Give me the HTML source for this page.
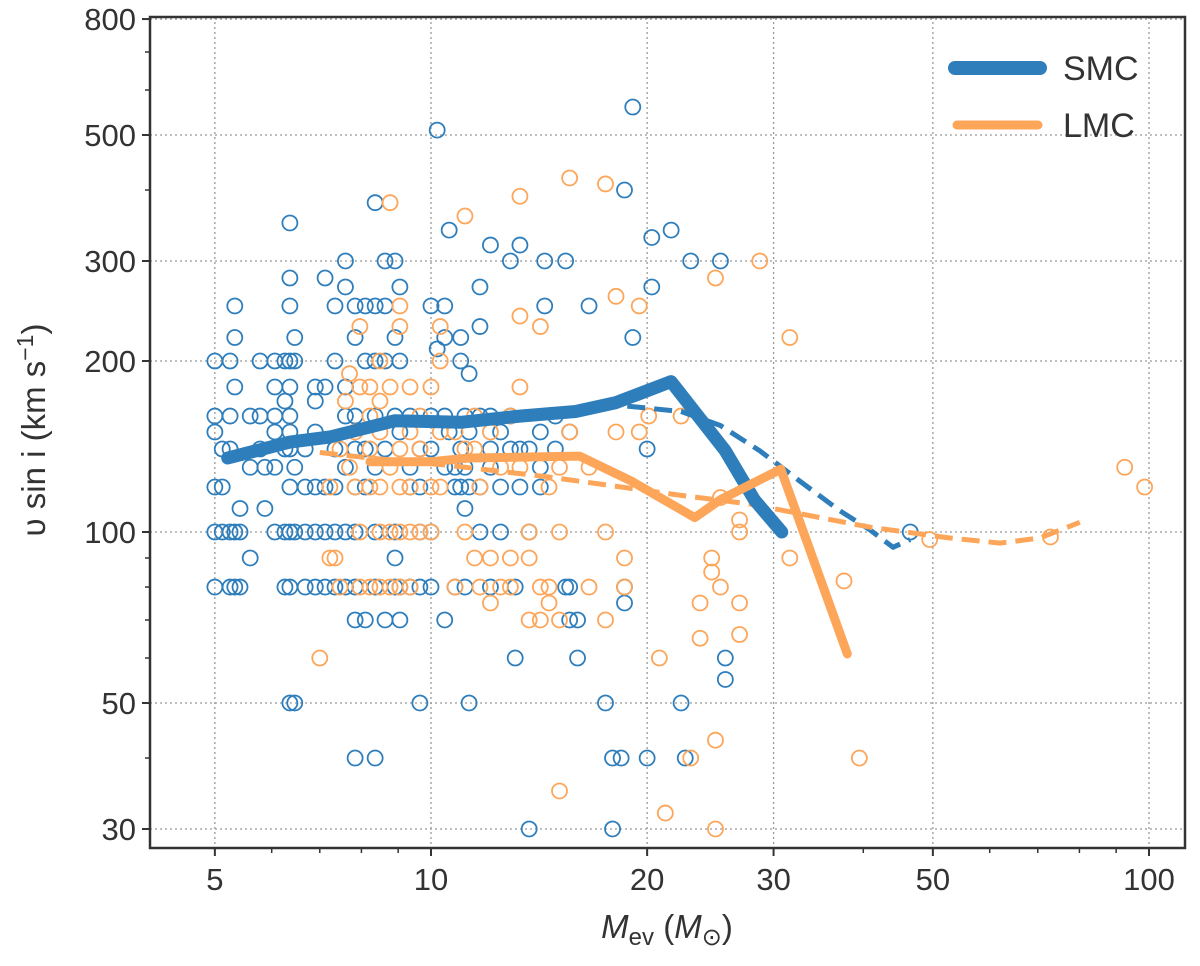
<!DOCTYPE html>
<html><head><meta charset="utf-8"><style>
body{margin:0;background:#fff}
svg text{font-family:"Liberation Sans",sans-serif;fill:#333}
</style></head><body>
<svg id="chart" width="1200" height="961"></svg>
<script>
const xTicks=[5,10,20,30,50,100];
const yTicks=[30,50,100,200,300,500,800];
const smcM=[5.0,5.0,5.0,5.0,5.0,5.0,5.12,5.12,5.12,5.25,5.25,5.25,5.25,5.25,5.33,5.33,5.33,5.33,5.33,5.42,5.42,5.42,5.6,5.6,5.6,5.78,5.78,5.78,5.87,5.87,6.06,6.06,6.06,6.06,6.06,6.06,6.26,6.26,6.26,6.26,6.26,6.36,6.36,6.36,6.36,6.36,6.36,6.36,6.36,6.36,6.36,6.36,6.36,6.46,6.46,6.46,6.46,6.46,6.68,6.68,6.68,6.68,6.9,6.9,6.9,6.9,6.9,6.9,7.12,7.12,7.12,7.12,7.12,7.35,7.35,7.35,7.35,7.35,7.35,7.6,7.6,7.6,7.6,7.6,7.6,7.6,7.84,7.84,7.84,7.84,7.84,7.84,7.84,7.84,7.84,8.1,8.1,8.1,8.1,8.1,8.36,8.36,8.36,8.36,8.36,8.36,8.36,8.36,8.63,8.63,8.63,8.63,8.63,8.91,8.91,8.91,8.91,8.91,8.91,9.05,9.05,9.05,9.05,9.05,9.35,9.35,9.35,9.35,9.65,9.65,9.65,9.65,9.65,10,10,10,10,10,10.2,10.2,10.45,10.45,10.45,10.45,10.45,10.6,10.6,10.8,10.8,10.8,11.0,11.0,11.0,11.0,11.15,11.15,11.15,11.15,11.3,11.3,11.3,11.3,11.7,11.7,11.7,11.7,11.7,12.1,12.1,12.1,12.1,12.1,12.5,12.5,12.5,12.9,12.9,12.9,13.1,13.1,13.3,13.3,13.3,13.7,13.7,13.7,14.2,14.2,14.2,14.4,14.4,14.9,14.9,15.4,15.4,15.6,15.6,15.6,16.0,16.0,16.6,17.5,17.9,17.9,18.4,18.6,18.6,18.6,19.1,19.1,20,20,20.3,20.3,21.6,22.3,22.6,23,25.3,25.7,25.7,46.5];
const smcV=[100,80,120,150,160,200,100,140,120,80,100,200,160,140,100,80,180,220,250,100,80,110,90,160,130,160,140,200,130,110,100,180,200,160,130,150,100,80,140,200,170,80,100,120,140,150,160,180,200,250,280,350,50,100,130,220,200,50,80,100,120,140,80,100,120,150,170,180,100,120,180,280,80,100,120,140,200,250,80,80,100,130,160,180,300,270,100,120,140,160,220,250,70,40,80,120,140,200,250,70,100,130,160,200,80,380,250,40,140,200,250,300,70,90,100,80,160,220,300,80,150,270,200,70,80,120,130,160,80,100,120,140,50,80,100,140,160,250,510,210,130,160,220,250,70,340,150,130,120,80,120,140,200,220,80,160,130,110,50,120,150,190,120,230,270,160,100,320,80,140,160,130,150,120,100,300,160,140,60,80,320,120,140,30,140,100,130,120,150,250,300,160,140,300,80,70,80,150,60,70,250,50,40,30,40,400,75,80,560,220,40,140,330,270,340,50,40,300,300,60,55,100];
const lmcM=[7.0,7.23,7.23,7.35,7.47,7.47,7.6,7.7,7.7,7.84,7.84,7.96,7.96,7.96,7.96,8.22,8.22,8.22,8.22,8.22,8.49,8.49,8.49,8.49,8.49,8.49,8.77,8.77,8.77,8.77,8.77,9.05,9.05,9.05,9.05,9.05,9.05,9.35,9.35,9.35,9.35,9.35,9.65,9.65,9.65,10,10,10,10.3,10.3,10.3,10.3,10.8,10.8,11.15,11.15,11.15,11.5,11.5,11.5,11.7,11.7,12.1,12.1,12.1,12.5,12.5,12.9,12.9,12.9,13.3,13.3,13.3,13.3,13.7,13.7,13.7,14.2,14.2,14.2,14.6,14.6,14.6,15.1,15.1,15.1,15.1,15.6,15.6,16.6,16.6,17.5,17.5,17.5,18.1,18.1,18.6,18.6,19.5,19.5,20.1,20.8,21.2,22.3,23.0,23.7,23.7,24.6,24.6,24.9,24.9,24.9,25.3,25.3,26.9,26.9,26.9,26.9,28.7,31.6,31.6,37.6,39.5,49.5,72.9,92.5,98.6];
const lmcV=[60,120,90,90,80,140,170,190,130,150,120,80,100,180,230,120,140,180,160,80,80,100,120,150,200,170,80,100,130,180,380,80,100,120,140,250,230,80,100,120,150,180,100,140,160,100,120,180,230,120,150,200,150,80,360,100,140,90,140,160,120,80,75,150,90,80,130,90,80,160,180,240,390,130,100,90,70,230,70,80,80,75,120,70,100,130,35,150,420,130,80,410,70,100,150,260,90,80,150,250,160,60,32,160,40,75,65,90,85,280,30,43,80,115,105,100,75,66,300,90,220,82,40,97,98,130,120];
const smcLineM=[5.21,6.36,7.23,8.91,11.0,13.3,15.9,18.1,21.6,25.7,28.2,30.8];
const smcLineV=[135,144,147,157,156,160,163,169,184,139,114,100];
const smcDashM=[13.3,15.9,18.4,22.3,25.3,28.7,32.6,37.1,40.8,44.0,46.5];
const smcDashV=[160,163,167,163,154,139,123,109,101,94,97];
const lmcLineM=[8.22,10,11.3,16.1,19.0,23.3,25.3,30.7,38.0];
const lmcLineV=[133,133,135,136,123,106,114,129,61];
const lmcDashM=[7.0,8.22,10.6,14.6,18.4,22.3,27.8,34.8,40.8,52.8,62.0,70.5,80.1];
const lmcDashV=[138,135,131,125,120,116,112,106,102,97.6,95.6,97.6,104];

const L=150,R=1185,T=17,B=848;
const X=m=>431+718*Math.log10(m/10);
const Y=v=>532-568*Math.log10(v/100);
const NS="http://www.w3.org/2000/svg";
const svg=document.getElementById('chart');
function mk(tag,attrs,parent){const e=document.createElementNS(NS,tag);for(const k in attrs)e.setAttribute(k,attrs[k]);(parent||svg).appendChild(e);return e;}
const BLUE="#2f7ebc",ORANGE="#fda65a";
xTicks.forEach(t=>{const g=mk('line',{x1:X(t),x2:X(t),y1:T,y2:B,stroke:'#999','stroke-width':1.3,'stroke-dasharray':'2,3'});

});
yTicks.forEach(t=>{const g=mk('line',{x1:L,x2:R,y1:Y(t),y2:Y(t),stroke:'#999','stroke-width':1.3,'stroke-dasharray':'2,3'});

});
function pts(M,V,col,name){for(let i=0;i<M.length;i++){const c=mk('circle',{cx:X(M[i]),cy:Y(V[i]),r:7.5,fill:'none',stroke:col,'stroke-width':1.8});

}}
pts(smcM,smcV,BLUE,'smc-point');
pts(lmcM,lmcV,ORANGE,'lmc-point');
function line(M,V,col,w,dash,name){const d=M.map((m,i)=>(i?'L':'M')+X(m).toFixed(1)+','+Y(V[i]).toFixed(1)).join('');
const p=mk('path',{d:d,fill:'none',stroke:col,'stroke-width':w,'stroke-dasharray':dash||'none','stroke-linejoin':'round','stroke-linecap':dash?'butt':'round'});

}
line(smcDashM,smcDashV,BLUE,5,'18,9','smc-dashed-line');
line(lmcDashM,lmcDashV,ORANGE,5,'18,9','lmc-dashed-line');
line(smcLineM,smcLineV,BLUE,13,null,'smc-solid-line');
line(lmcLineM,lmcLineV,ORANGE,9,null,'lmc-solid-line');
const fr=mk('rect',{x:L,y:T,width:R-L,height:B-T,fill:'none',stroke:'#333','stroke-width':2.5});


xTicks.forEach(t=>{mk('line',{x1:X(t),x2:X(t),y1:B,y2:B+8,stroke:'#333','stroke-width':2});
const tx=mk('text',{x:X(t),y:B+42,'text-anchor':'middle','font-size':31});tx.textContent=t;

});
[6,7,8,9,40,60,70,80,90].forEach(t=>mk('line',{x1:X(t),x2:X(t),y1:B,y2:B+5,stroke:'#333','stroke-width':1.5}));
yTicks.forEach(t=>{mk('line',{x1:L-8,x2:L,y1:Y(t),y2:Y(t),stroke:'#333','stroke-width':2});
const tx=mk('text',{x:L-14,y:Y(t)+11,'text-anchor':'end','font-size':31});tx.textContent=t;

});
[40,60,70,80,90,400,600,700].forEach(t=>mk('line',{x1:L-5,x2:L,y1:Y(t),y2:Y(t),stroke:'#333','stroke-width':1.5}));
mk('line',{x1:955,x2:1040,y1:68,y2:68,stroke:BLUE,'stroke-width':14,'stroke-linecap':'round'});
mk('line',{x1:957,x2:1038,y1:125,y2:125,stroke:ORANGE,'stroke-width':9,'stroke-linecap':'round'});
</script>
<svg width="1200" height="961" style="position:absolute;left:0;top:0;pointer-events:none">
<text x="1063" y="80" font-size="34" style="font-family:'Liberation Sans',sans-serif;fill:#333">SMC</text>
<text x="1063" y="137" font-size="34" style="font-family:'Liberation Sans',sans-serif;fill:#333">LMC</text>
<text x="667" y="938" text-anchor="middle" font-size="33" style="font-family:'Liberation Sans',sans-serif;fill:#333"><tspan font-style="italic">M</tspan><tspan font-size="24" dy="7">ev</tspan><tspan dy="-7"> (</tspan><tspan font-style="italic">M</tspan><tspan font-size="24" dy="7">⊙</tspan><tspan dy="-7">)</tspan></text>
<text transform="translate(45,430) rotate(-90)" text-anchor="middle" font-size="33" style="font-family:'Liberation Sans','DejaVu Sans',sans-serif;fill:#333">υ sin i (km s<tspan font-size="23" dy="-12">−1</tspan><tspan dy="12">)</tspan></text>
</svg>
</body></html>
